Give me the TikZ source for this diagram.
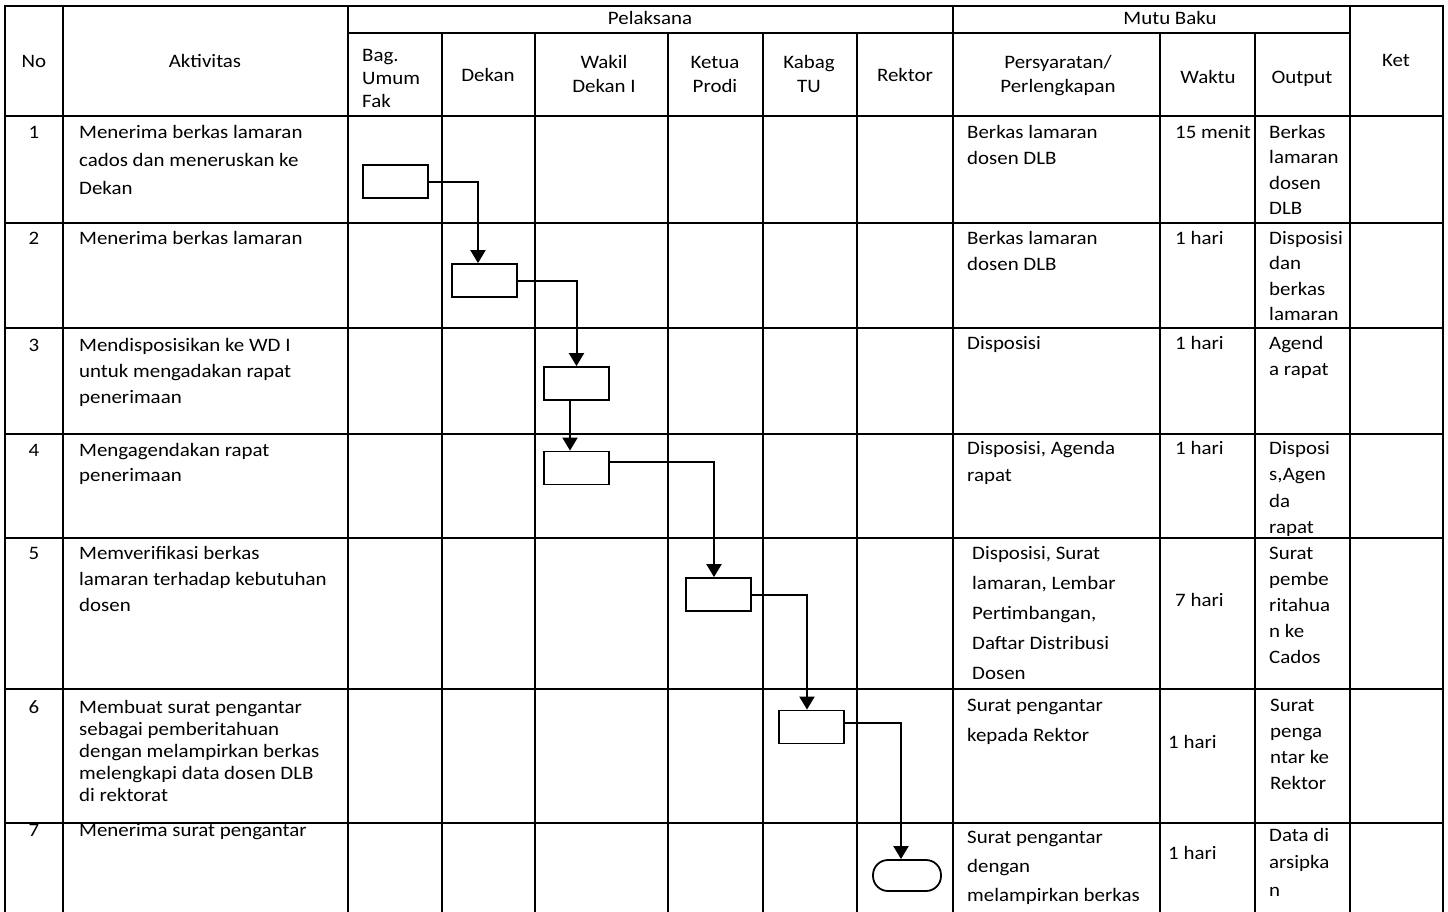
\documentclass[tikz,border=0pt]{standalone}
\usepackage{fontspec}
\setmainfont{Carlito}[FakeStretch=1.1]
\usetikzlibrary{arrows.meta}

% multi-line cells are placed at the baseline of their last line
\tikzset{
  gridline/.style={line width=2pt, line cap=rect},
  txt/.style={inner sep=0pt, anchor=base west, align=left, font=\fontsize{19}{#1}\selectfont},
  txt/.default=26,
  head/.style={inner sep=0pt, anchor=base, align=center, font=\fontsize{19}{#1}\selectfont},
  head/.default=24,
  proc/.style={draw, line width=1.8pt, fill=white, minimum width=65pt, minimum height=33pt, inner sep=0pt},
  endbox/.style={proc, rounded corners=15pt, minimum width=68pt, minimum height=31pt},
  flow/.style={line width=2pt, -{Triangle[width=15pt,length=13pt]}}
}

\begin{document}
\begin{tikzpicture}[x=1pt,y=-1pt]
\useasboundingbox (0,0) rectangle (1448,911);

% table rules
\draw[gridline] (5,6) -- (1443,6);
\draw[gridline] (348,33) -- (1350,33);
\foreach \y in {116,223,328,434,538,689,823}
  \draw[gridline] (5,\y) -- (1443,\y);
\foreach \x in {5,63,348,953,1350,1443}
  \draw[gridline] (\x,6) -- (\x,911);
\foreach \x in {442,535,668,763,857,1160,1255}
  \draw[gridline] (\x,33) -- (\x,911);

% header
\node[head] (hNo) at (34,67) {No};
\node[head] (hAkt) at (205,67) {Aktivitas};
\node[head] (hPel) at (650,24) {Pelaksana};
\node[head] (hMutu) at (1170,24) {Mutu Baku};
\node[txt=23] (hBag) at (362,107) {Bag.\\Umum\\Fak};
\node[head] (hDekan) at (488,81) {Dekan};
\node[head] (hWakil) at (604,92) {Wakil\\Dekan I};
\node[head] (hKaprodi) at (715,92) {Ketua\\Prodi};
\node[head] (hKabag) at (809,92) {Kabag\\TU};
\node[head] (hRektor) at (905,81) {Rektor};
\node[head] (hSyarat) at (1058,92) {Persyaratan/\\Perlengkapan};
\node[head] (hWaktu) at (1208,83) {Waktu};
\node[head] (hOutput) at (1302,83) {Output};
\node[head] (hKet) at (1396,66) {Ket};

% nomor
\node[head] (no1) at (34,138) {1};
\node[head] (no2) at (34,244) {2};
\node[head] (no3) at (34,351) {3};
\node[head] (no4) at (34,456) {4};
\node[head] (no5) at (34,559) {5};
\node[head] (no6) at (34,713) {6};
\node[head] (no7) at (34,836) {7};

% aktivitas
\node[txt=28] (akt1) at (79,194) {Menerima berkas lamaran\\cados dan meneruskan ke\\Dekan};
\node[txt] (akt2) at (79,244) {Menerima berkas lamaran};
\node[txt=26] (akt3) at (79,403) {Mendisposisikan ke WD I\\untuk mengadakan rapat\\penerimaan};
\node[txt=25] (akt4) at (79,481) {Mengagendakan rapat\\penerimaan};
\node[txt=26] (akt5) at (79,611) {Memverifikasi berkas\\lamaran terhadap kebutuhan\\dosen};
\node[txt=22] (akt6) at (79,801) {Membuat surat pengantar\\sebagai pemberitahuan\\dengan melampirkan berkas\\melengkapi data dosen DLB\\di rektorat};
\node[txt] (akt7) at (79,836) {Menerima surat pengantar};

% persyaratan
\node[txt] (syarat1) at (967,164) {Berkas lamaran\\dosen DLB};
\node[txt] (syarat2) at (967,270) {Berkas lamaran\\dosen DLB};
\node[txt] (syarat3) at (967,349) {Disposisi};
\node[txt=27] (syarat4) at (967,481) {Disposisi, Agenda\\rapat};
\node[txt=30] (syarat5) at (972,679) {Disposisi, Surat\\lamaran, Lembar\\Pertimbangan,\\Daftar Distribusi\\Dosen};
\node[txt=30] (syarat6) at (967,741) {Surat pengantar\\kepada Rektor};
\node[txt=29] (syarat7) at (967,901) {Surat pengantar\\dengan\\melampirkan berkas};

% waktu
\node[txt] (waktu1) at (1175,138) {15 menit};
\node[txt] (waktu2) at (1175,244) {1 hari};
\node[txt] (waktu3) at (1175,349) {1 hari};
\node[txt] (waktu4) at (1175,454) {1 hari};
\node[txt] (waktu5) at (1175,606) {7 hari};
\node[txt] (waktu6) at (1168,748) {1 hari};
\node[txt] (waktu7) at (1168,859) {1 hari};

% output
\node[txt=25.5] (out1) at (1269,214.5) {Berkas\\lamaran\\dosen\\DLB};
\node[txt=25.5] (out2) at (1269,320.5) {Disposisi\\dan\\berkas\\lamaran};
\node[txt] (out3) at (1269,375) {Agend\\a rapat};
\node[txt=26.5] (out4) at (1269,533.5) {Disposi\\s,Agen\\da\\rapat};
\node[txt] (out5) at (1269,663) {Surat\\pembe\\ritahua\\n ke\\Cados};
\node[txt] (out6) at (1270,789) {Surat\\penga\\ntar ke\\Rektor};
\node[txt=27.5] (out7) at (1269,896) {Data di\\arsipka\\n};

% alur
\node[proc] (b1) at (395.5,181.5) {};
\node[proc] (b2) at (484.5,280.5) {};
\node[proc] (b3) at (576.5,383.5) {};
\node[proc] (b4) at (576.5,468) {};
\node[proc] (b5) at (718.5,594.5) {};
\node[proc] (b6) at (811.5,727) {};
\node[endbox] (done) at (907,875.5) {};

\draw[flow] (b1.east) -| ([xshift=-6.5pt]b2.north);
\draw[flow] (b2.east) -| (b3.north);
\draw[flow] ([xshift=-6.5pt]b3.south) -- ([xshift=-6.5pt]b4.north);
\draw[flow] ([yshift=6pt]b4.east) -| ([xshift=-4.5pt]b5.north);
\draw[flow] (b5.east) -| ([xshift=-4.5pt]b6.north);
\draw[flow] ([yshift=4pt]b6.east) -| ([xshift=-6pt]done.north);
\end{tikzpicture}
\end{document}
